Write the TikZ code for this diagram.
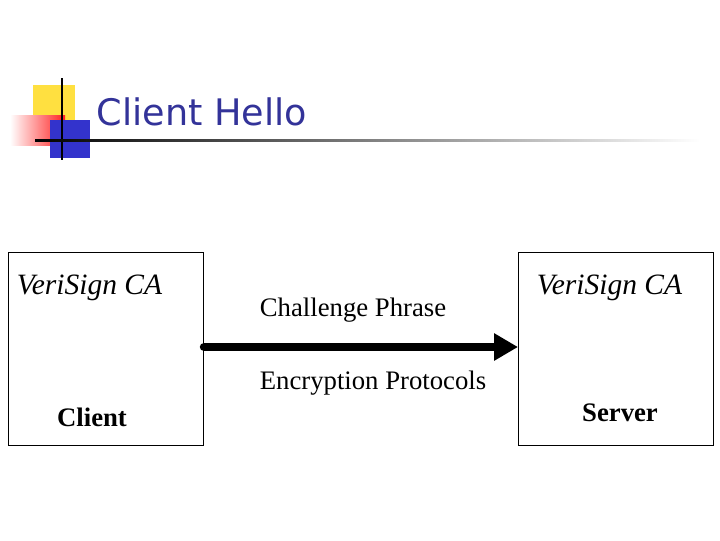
\documentclass[tikz,border=0pt]{standalone}
\usepackage{fontspec}
\setmainfont{Liberation Serif}
\newfontfamily\titlefont{DejaVu Sans}
\usetikzlibrary{arrows.meta,positioning}
\definecolor{titleblue}{HTML}{333399}
\definecolor{logoyellow}{HTML}{FFE040}
\definecolor{logored}{HTML}{FF2020}
\definecolor{logoblue}{HTML}{3333CC}
\begin{document}
\begin{tikzpicture}[x=0.025cm, y=-0.025cm,
        party/.style={rectangle, draw, thick, minimum width=4.875cm, minimum height=4.825cm, anchor=north west},
        ca/.style={font=\fontsize{21}{23}\selectfont\itshape, anchor=west},
        role/.style={font=\fontsize{19}{21}\selectfont\bfseries},
        msg/.style={font=\fontsize{19}{21}\selectfont},
        arrow/.style={line width=2.2mm, -{Triangle[length=6mm, width=6.5mm]}}
    ]
        \useasboundingbox (0,0) rectangle (720,540);
        % logo
        \fill[logoyellow] (33,85) rectangle (75,122);
        \shade[left color=white, right color=logored] (10,115) rectangle (65,145);
        \fill[logoblue] (50,120) rectangle (90,158);
        \draw[thick] (62,78) -- (62,160);
        \shade[left color=black, right color=white] (35,139) rectangle (700,141.5);
        \node[text=titleblue, font=\titlefont\fontsize{26}{28}\selectfont, anchor=west] (title) at (92,112) {Client Hello};

        % parties
        \node[party] (client) at (8,252) {};
        \node[party] (server) at (518,252) {};
        \node[ca] (cacl) at (12,288) {VeriSign CA};
        \node[ca] (casv) at (532,288) {VeriSign CA};
        \node[role] (lcl) at (92,417) {Client};
        \node[role] (lsv) at (620,413) {Server};

        % message
        \draw[arrow, line cap=round] (client.east |- 0,347) -- (server.west |- 0,347);
        \node[msg] (chal) at (353,310) {Challenge Phrase};
        \node[msg] (enc) at (373,383) {Encryption Protocols};
    \end{tikzpicture}
\end{document}
